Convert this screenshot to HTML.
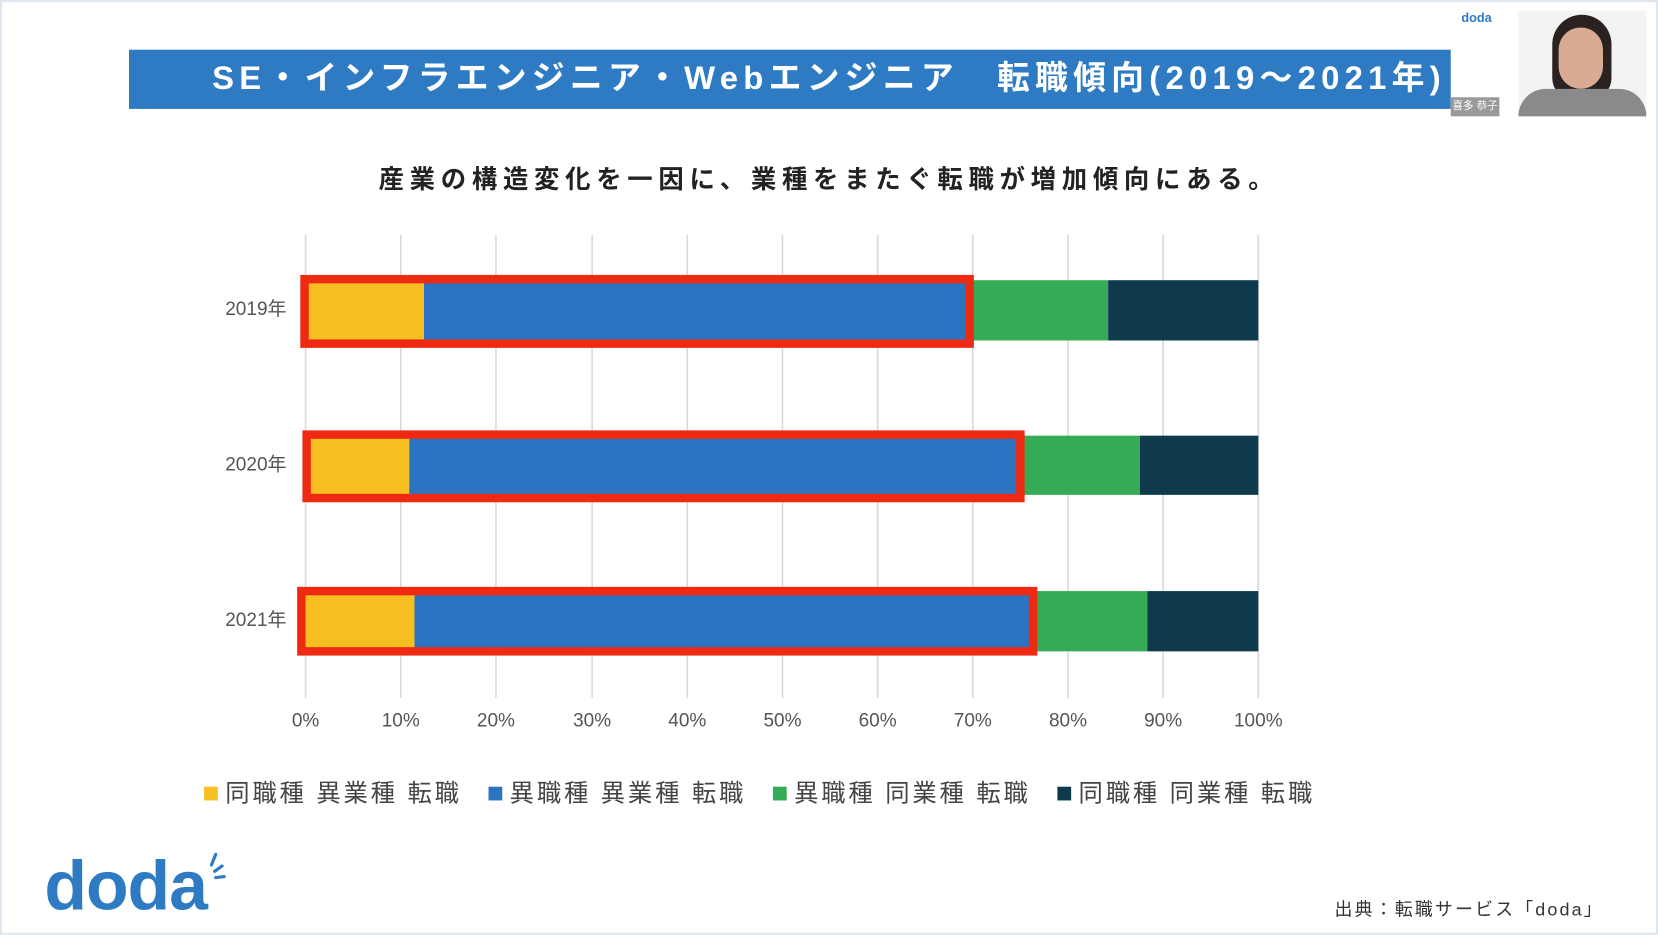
<!DOCTYPE html>
<html><head><meta charset="utf-8"><style>
html,body{margin:0;padding:0;background:#fff;width:1658px;height:935px;overflow:hidden}
#s{position:absolute;left:0;top:0;width:1568px;height:884px;transform:scale(1.05740);transform-origin:0 0;font-family:"Liberation Sans","Noto Sans CJK JP",sans-serif;}
.a{position:absolute}
</style></head><body><div id="s">
<div class="a" style="left:0;top:0;width:1564px;height:880px;border:2px solid #dfe6f0"></div>
<div class="a" style="left:122px;top:47px;width:1250px;height:56px;background:#2e7bc4"></div>
<div class="a" style="left:159px;top:47px;width:1250px;height:56px;line-height:54px;text-align:center;color:#fff;font-size:31px;font-weight:bold;letter-spacing:5px;white-space:nowrap">SE・インフラエンジニア・Webエンジニア　転職傾向(2019～2021年)</div>
<div class="a" style="left:1372px;top:92px;width:46px;height:18px;background:#999;color:#fff;font-size:10px;line-height:18px;text-align:center">喜多 恭子</div>
<div class="a" style="left:1382px;top:10px;color:#2e7bc4;font-size:12px;font-weight:bold">doda</div>
<div class="a" style="left:1436px;top:10px;width:121px;height:100px;background:#f3f3f3"></div>
<div class="a" style="left:1468px;top:14px;width:56px;height:80px;border-radius:28px 28px 20px 20px;background:#2a2220"></div>
<div class="a" style="left:1474px;top:26px;width:42px;height:58px;border-radius:21px;background:#d9ab93"></div>
<div class="a" style="left:1436px;top:84px;width:121px;height:26px;border-radius:40px 40px 0 0;background:#8a8a8a"></div>
<div class="a" style="left:0;top:150px;width:1568px;text-align:center;font-size:24px;font-weight:bold;color:#222;letter-spacing:5.4px">産業の構造変化を一因に、業種をまたぐ転職が増加傾向にある。</div>
<svg class="a" style="left:0;top:0" width="1568" height="884">
<g stroke="#d9d9d9" stroke-width="1.5">
<line x1="289" y1="222" x2="289" y2="660"/><line x1="379" y1="222" x2="379" y2="660"/><line x1="469" y1="222" x2="469" y2="660"/><line x1="560" y1="222" x2="560" y2="660"/><line x1="650" y1="222" x2="650" y2="660"/><line x1="740" y1="222" x2="740" y2="660"/><line x1="830" y1="222" x2="830" y2="660"/><line x1="920" y1="222" x2="920" y2="660"/><line x1="1010" y1="222" x2="1010" y2="660"/><line x1="1100" y1="222" x2="1100" y2="660"/><line x1="1190" y1="222" x2="1190" y2="660"/>
</g>
<rect x="289" y="265" width="112" height="57" fill="#f7bf22"/><rect x="401" y="265" width="515" height="57" fill="#2c73c1"/><rect x="916" y="265" width="132" height="57" fill="#35ab55"/><rect x="1048" y="265" width="142" height="57" fill="#0f3a4c"/>
<rect x="289" y="412" width="98" height="56" fill="#f7bf22"/><rect x="387" y="412" width="578" height="56" fill="#2c73c1"/><rect x="965" y="412" width="113" height="56" fill="#35ab55"/><rect x="1078" y="412" width="112" height="56" fill="#0f3a4c"/>
<rect x="289" y="559" width="103" height="57" fill="#f7bf22"/><rect x="392" y="559" width="584" height="57" fill="#2c73c1"/><rect x="976" y="559" width="109" height="57" fill="#35ab55"/><rect x="1085" y="559" width="105" height="57" fill="#0f3a4c"/>
<g fill="none" stroke="#ee2a13" stroke-width="8">
<rect x="288" y="264" width="629" height="61"/><rect x="290" y="411" width="675" height="60"/><rect x="285" y="559" width="692" height="57"/>
</g>
<g font-size="18" fill="#555" text-anchor="end"><text x="271" y="298">2019年</text><text x="271" y="445">2020年</text><text x="271" y="592">2021年</text></g>
<g font-size="18" fill="#555" text-anchor="middle"><text x="289" y="687">0%</text><text x="379" y="687">10%</text><text x="469" y="687">20%</text><text x="560" y="687">30%</text><text x="650" y="687">40%</text><text x="740" y="687">50%</text><text x="830" y="687">60%</text><text x="920" y="687">70%</text><text x="1010" y="687">80%</text><text x="1100" y="687">90%</text><text x="1190" y="687">100%</text></g>
<rect x="193" y="744" width="13" height="13" fill="#f7bf22"/><rect x="462" y="744" width="13" height="13" fill="#2c73c1"/><rect x="731" y="744" width="13" height="13" fill="#35ab55"/><rect x="1000" y="744" width="13" height="13" fill="#0f3a4c"/>
<g font-size="23" fill="#444" letter-spacing="2.7"><text x="213" y="758">同職種 異業種 転職</text><text x="482" y="758">異職種 異業種 転職</text><text x="751" y="758">異職種 同業種 転職</text><text x="1020" y="758">同職種 同業種 転職</text></g>
<text x="42" y="860" font-size="66" font-weight="bold" fill="#2e7bc4" letter-spacing="-1">doda</text>
<g stroke="#2e7bc4" stroke-width="3" stroke-linecap="round"><line x1="200" y1="818" x2="204" y2="808"/><line x1="203" y1="824" x2="210" y2="819"/><line x1="204" y1="830" x2="212" y2="829"/></g>
<text x="1262" y="866" font-size="17" fill="#333" letter-spacing="2">出典：転職サービス「doda」</text>
</svg>
</div></body></html>
